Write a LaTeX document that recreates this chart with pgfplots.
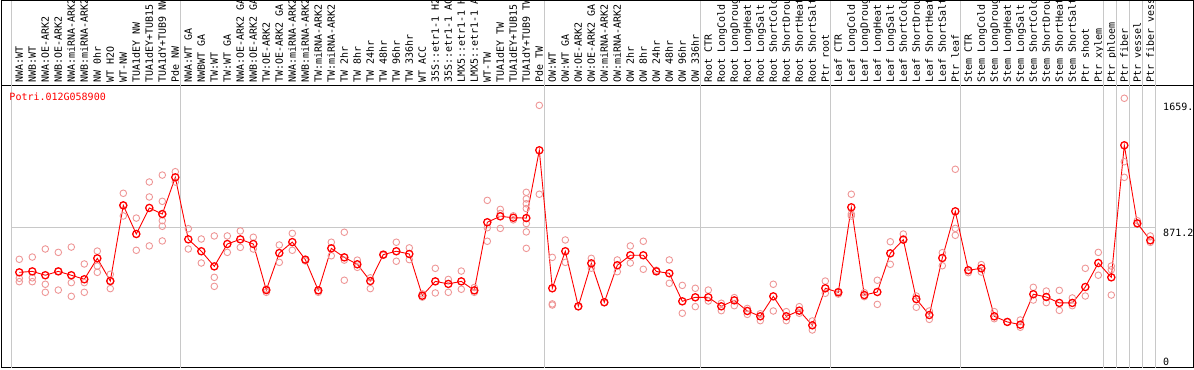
\documentclass[border=0pt]{standalone}
\usepackage{fontspec}
\setmainfont{DejaVu Sans Mono}
\usepackage{pgfplots}
\usepackage{pgfplotstable}
\pgfplotsset{compat=1.18}
\definecolor{gridgray}{RGB}{200,200,200}
\definecolor{reppink}{RGB}{238,150,150}

\pgfplotstableread{
x y
0 594
1 600
2 576
3 600
4 576
5 551
6 681
7 540
8 1010
9 832
10 994
11 956
12 1184
13 799
14 725
15 631
16 770
17 799
18 770
19 484
20 714
21 782
22 673
23 482
24 743
25 687
26 644
27 540
28 704
29 725
30 708
31 449
32 538
33 522
34 538
35 482
36 905
37 942
38 933
39 931
40 1352
41 495
42 725
43 383
44 650
45 408
46 638
47 700
48 700
49 600
50 588
51 414
52 439
53 439
54 383
55 420
56 354
57 321
58 445
59 321
60 356
61 265
62 495
63 470
64 998
65 453
66 472
67 712
68 797
69 428
70 329
71 683
72 973
73 607
74 619
75 321
76 286
77 269
78 458
79 441
80 404
81 404
82 503
83 652
84 563
85 1383
86 898
87 793
}\means

\pgfplotstableread{
x y
0 675
0 557
0 536
1 689
1 560
1 536
2 739
2 520
2 470
3 718
3 484
3 600
4 751
4 530
4 445
5 646
5 530
5 470
6 726
6 633
6 594
7 582
7 493
7 540
8 1085
8 944
8 1010
9 931
9 731
10 1155
10 1062
10 758
11 1198
11 1035
11 915
11 880
11 789
11 956
12 1219
12 1155
13 865
13 739
14 801
14 652
15 820
15 563
15 507
16 820
16 718
17 851
17 749
18 812
18 739
19 490
19 470
20 764
20 656
21 836
21 731
22 673
22 665
23 482
23 470
24 781
24 697
25 843
25 545
25 670
26 670
26 625
27 560
27 493
28 704
28 700
29 781
29 663
30 746
30 673
31 460
31 440
32 619
32 466
33 550
33 470
34 602
34 489
35 500
35 470
36 1041
36 871
36 787
37 985
37 960
37 867
38 945
38 920
39 1091
39 1050
39 1020
39 990
39 897
39 845
39 743
40 1631
40 1079
41 687
41 391
41 398
42 795
42 656
43 380
44 681
44 620
45 408
46 671
46 598
47 758
47 652
48 787
48 613
49 607
50 671
50 526
51 513
51 340
52 495
52 381
53 484
53 416
54 402
54 356
55 437
55 387
56 370
56 333
57 337
57 294
58 520
58 354
59 350
59 294
60 381
60 340
61 292
61 236
62 540
62 464
63 476
63 459
64 1079
64 956
64 944
65 468
65 443
66 545
66 395
67 784
67 644
68 832
68 801
69 447
69 377
70 354
70 302
71 716
71 635
72 1234
72 867
72 824
73 592
73 607
74 642
74 596
75 350
75 306
76 286
77 298
77 253
78 501
78 422
79 478
79 406
80 482
80 358
81 435
81 387
82 619
82 447
83 718
83 576
84 633
84 610
84 453
85 1675
85 1281
85 1184
86 915
86 898
87 820
87 780
}\reps

\begin{document}
\begin{tikzpicture}
\begin{axis}[
  scale only axis,
  width=1192pt, height=283pt,
  xmin=-1.4077, xmax=90.285,
  ymin=0, ymax=1757.3,
  clip=false,
  axis line style={black, line width=1pt},
  xtick={0,...,87},
  xticklabels={{NWA:WT},{NWB:WT},{NWA:OE-ARK2},{NWB:OE-ARK2},{NWA:miRNA-ARK2},{NWB:miRNA-ARK2},{NW 0hr},{WT H2O},{WT-NW},{TUA1dEY NW},{TUA1dEY+TUB15},{TUA1dY+TUB9 NW},{Pde NW},{NWA:WT GA},{NWBWT GA},{TW:WT},{TW:WT GA},{NWA:OE-ARK2 GA},{NWB:OE-ARK2 GA},{TW:OE-ARK2},{TW:OE-ARK2 GA},{NWA:miRNA-ARK2},{NWB:miRNA-ARK2},{TW:miRNA-ARK2},{TW:miRNA-ARK2},{TW 2hr},{TW 8hr},{TW 24hr},{TW 48hr},{TW 96hr},{TW 336hr},{WT ACC},{35S::etr1-1 H2},{35S::etr1-1 AC},{LMX5::etr1-1 H},{LMX5::etr1-1 A},{WT-TW},{TUA1dEY TW},{TUA1dEY+TUB15},{TUA1dY+TUB9 TW},{Pde TW},{OW:WT},{OW:WT GA},{OW:OE-ARK2},{OW:OE-ARK2 GA},{OW:miRNA-ARK2},{OW:miRNA-ARK2},{OW 2hr},{OW 8hr},{OW 24hr},{OW 48hr},{OW 96hr},{OW 336hr},{Root CTR},{Root LongCold},{Root LongDroug},{Root LongHeat},{Root LongSalt},{Root ShortCold},{Root ShortDrou},{Root ShortHeat},{Root ShortSalt},{Ptr root},{Leaf CTR},{Leaf LongCold},{Leaf LongDroug},{Leaf LongHeat},{Leaf LongSalt},{Leaf ShortCold},{Leaf ShortDrou},{Leaf ShortHeat},{Leaf ShortSalt},{Ptr leaf},{Stem CTR},{Stem LongCold},{Stem LongDroug},{Stem LongHeat},{Stem LongSalt},{Stem ShortCold},{Stem ShortDrou},{Stem ShortHeat},{Stem ShortSalt},{Ptr shoot},{Ptr xylem},{Ptr phloem},{Ptr fiber},{Ptr vessel},{Ptr fiber vess}},
  xticklabel pos=upper,
  xticklabel style={rotate=90, anchor=west, inner sep=0pt, font=\fontsize{10}{10}\selectfont, text height=7.3pt, text depth=0pt},
  xticklabel shift=2pt,
  major tick length=0pt,
  ytick=\empty,
]
% vertical group separators (through header)
\foreach \v in {-0.62,12.38,40.38,52.38,62.38,72.38,83.38,84.38,85.38,86.38,87.38}{
  \edef\tmp{\noexpand\addplot[gridgray, line width=1pt, forget plot] coordinates {(\v,0) (\v,2285)};}
  \tmp
}
\addplot[gridgray, line width=1pt, forget plot] coordinates {(-0.62,871.2) (87.38,871.2)};
% header frame
\draw[black, line width=1pt] (rel axis cs:0,1) -- (rel axis cs:0,1.2986) -- (rel axis cs:1,1.2986) -- (rel axis cs:1,1);
% replicates
\addplot[only marks, mark=o, mark size=3.3pt, reppink, mark options={line width=0.9pt}] table[x=x,y=y] {\reps};
% means
\addplot[red, line width=0.9pt, mark=o, mark size=3.6pt, mark options={red, line width=1.3pt}] table[x=x,y=y] {\means};
% title and value labels
\node[anchor=base west, inner sep=0pt, red, font=\fontsize{10}{10}\selectfont] at (axis cs:-0.77,1662) {Potri.012G058900};
\node[anchor=north west, inner sep=0pt, font=\fontsize{10}{10}\selectfont] at (axis cs:87.98,1645) {1659.};
\node[anchor=north west, inner sep=0pt, font=\fontsize{10}{10}\selectfont] at (axis cs:87.98,862) {871.2};
\node[anchor=base west, inner sep=0pt, font=\fontsize{10}{10}\selectfont] at (axis cs:87.98,16) {0};
\coordinate (bbsw) at (rel axis cs:-0.000839,-0.00707);
\coordinate (bbne) at (rel axis cs:1.000839,1.3004);
\end{axis}
\pgfresetboundingbox
\path (bbsw) rectangle (bbne);
\end{tikzpicture}
\end{document}
